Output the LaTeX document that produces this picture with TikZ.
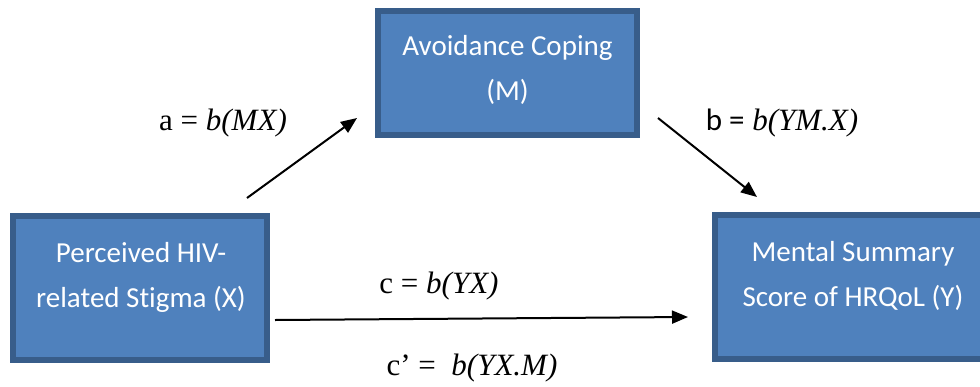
\documentclass[tikz,border=0pt]{standalone}
\usepackage{fontspec}
\setmainfont{Liberation Serif}
\newfontfamily\calibri{Carlito}[Ligatures=NoCommon]
\usetikzlibrary{arrows.meta,calc,positioning}
\definecolor{BoxFill}{HTML}{4F81BD}
\definecolor{BoxBorder}{HTML}{385D8A}
\tikzset{
    % Variable box
    varbox/.style={
        draw=BoxBorder,
        fill=BoxFill,
        line width=3pt,
        inner sep=0pt,
        outer sep=0pt
    },
    % Text inside a variable box
    vartext/.style={
        text=white,
        align=center,
        inner sep=0pt,
        font=\calibri\fontsize{14.5}{22.5}\selectfont
    },
    % Path arrow
    myarrow/.style={
        -{Triangle[length=8pt,width=6.5pt]},
        line width=1pt,
        draw=black
    },
    % Path coefficient label
    pathlabel/.style={
        anchor=base,
        inner sep=0pt,
        font=\fontsize{15.5}{18}\selectfont
    }
}
\begin{document}
\begin{tikzpicture}[x=0.5pt, y=-0.5pt]
        \useasboundingbox (0,0) rectangle (980,386);
        \fill[white] (0,0) rectangle (980,386);
        \clip (0,0) rectangle (980,386);

        % Boxes
        \node[varbox, minimum width=127pt, minimum height=72pt] (x) at (140,288) {};
        \node[varbox, minimum width=129.5pt, minimum height=62pt] (m) at (507.5,73) {};
        \node[varbox, minimum width=138pt, minimum height=72pt] (y) at (853,287) {};

        % Box texts
        \node[vartext] (xtext) at (141,277) {Perceived HIV-\\related Stigma (X)};
        \node[vartext] (mtext) at (507.5,70) {Avoidance Coping\\(M)};
        \node[vartext] (ytext) at (853,276) {Mental Summary\\Score of HRQoL (Y)};

        % Paths
        \draw[myarrow] ($(x.north east)+(-20,-18)$) -- ($(m.south west)+(-21,-17)$);
        \draw[myarrow] ($(m.south east)+(21,-17)$) -- ($(y.north west)+(42,-18)$);
        \draw[myarrow] ($(x.east)+(8,32)$) -- ($(y.west)+(-27,30)$);

        % Labels
        \node[pathlabel] (alabel) at (223,130) {a = \textit{b(MX)}};
        \node[pathlabel] (blabel) at (782,130) {{\calibri b =} \textit{b(YM.X)}};
        \node[pathlabel] (clabel) at (439,293) {c = \textit{b(YX)}};
        \node[pathlabel] (cplabel) at (472,375) {c’ =\ \ \textit{b(YX.M)}};
    \end{tikzpicture}
\end{document}
